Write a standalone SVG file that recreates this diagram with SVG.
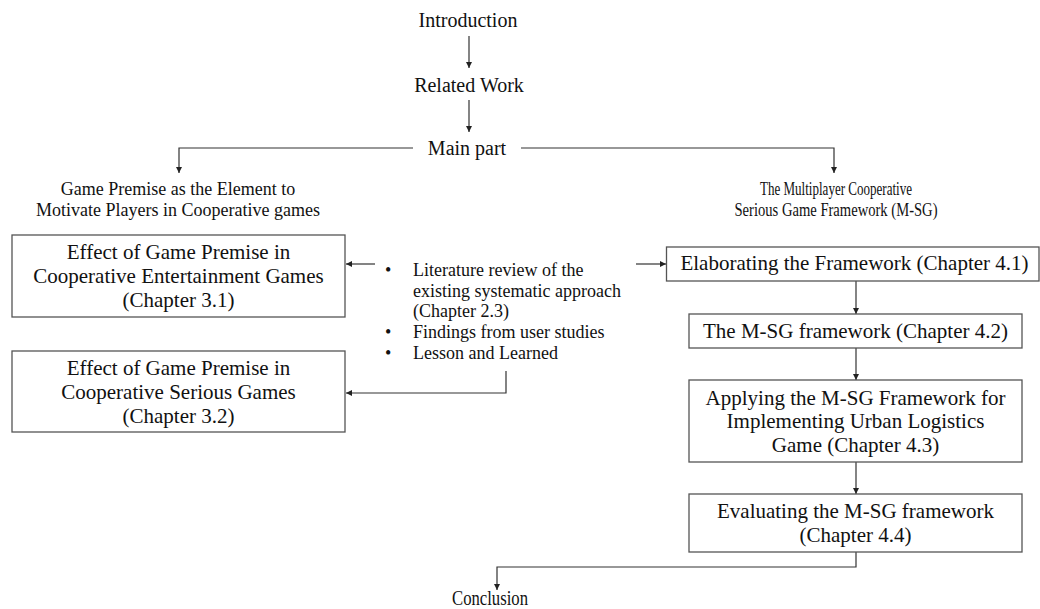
<svg xmlns="http://www.w3.org/2000/svg" width="1040" height="609" viewBox="0 0 1040 609">
  <style>
    text { font-family: "Liberation Serif", "Times New Roman", serif; fill: #111; }
    .top { font-size: 20px; text-anchor: middle; }
    .head { font-size: 18px; text-anchor: middle; }
    .box { fill: #fff; stroke: #555; stroke-width: 1.3; }
    .bt { font-size: 21px; text-anchor: middle; }
    .list { font-size: 18px; }
    .wire { fill: none; stroke: #333; stroke-width: 1.2; }
  </style>
  <defs>
    <marker id="arrow" viewBox="0 0 10 10" refX="10" refY="5" markerWidth="6" markerHeight="6" markerUnits="userSpaceOnUse" orient="auto">
      <path d="M0,0 L10,5 L0,10 z" fill="#222"/>
    </marker>
  </defs>

  <rect width="1040" height="609" fill="#fff"/>

  <!-- connectors -->
  <g id="connectors">
    <line class="wire" x1="469" y1="36" x2="469" y2="68" marker-end="url(#arrow)"/>
    <line class="wire" x1="469" y1="100" x2="469" y2="132" marker-end="url(#arrow)"/>
    <path class="wire" d="M413,148 H179 V173" marker-end="url(#arrow)"/>
    <path class="wire" d="M521,148 H834 V173" marker-end="url(#arrow)"/>
    <line class="wire" x1="375" y1="264" x2="346" y2="264" marker-end="url(#arrow)"/>
    <path class="wire" d="M506,371 V393 H346" marker-end="url(#arrow)"/>
    <line class="wire" x1="636" y1="264" x2="666" y2="264" marker-end="url(#arrow)"/>
    <line class="wire" x1="856" y1="281" x2="856" y2="314" marker-end="url(#arrow)"/>
    <line class="wire" x1="856" y1="348" x2="856" y2="380" marker-end="url(#arrow)"/>
    <line class="wire" x1="856" y1="462" x2="856" y2="494" marker-end="url(#arrow)"/>
    <path class="wire" d="M856,552 V567 H497 V590" marker-end="url(#arrow)"/>
  </g>

  <g id="introduction">
    <text class="top" x="468" y="27">Introduction</text>
  </g>
  <g id="related-work">
    <text class="top" x="469" y="92">Related Work</text>
  </g>
  <g id="main-part">
    <text class="top" x="467" y="155">Main part</text>
  </g>

  <g id="premise-heading">
    <text class="head" x="178" y="195">Game Premise as the Element to</text>
    <text class="head" x="178" y="216">Motivate Players in Cooperative games</text>
  </g>
  <g id="msg-heading">
    <text class="head" x="836" y="195" textLength="152" lengthAdjust="spacingAndGlyphs">The Multiplayer Cooperative</text>
    <text class="head" x="836" y="216" textLength="203" lengthAdjust="spacingAndGlyphs">Serious Game Framework (M-SG)</text>
  </g>

  <g id="chapter-3-1">
    <rect class="box" x="12" y="235" width="333" height="82"/>
    <text class="bt" x="178.5" y="259">Effect of Game Premise in</text>
    <text class="bt" x="178.5" y="283">Cooperative Entertainment Games</text>
    <text class="bt" x="178.5" y="307">(Chapter 3.1)</text>
  </g>
  <g id="chapter-3-2">
    <rect class="box" x="12" y="351" width="333" height="81"/>
    <text class="bt" x="178.5" y="375">Effect of Game Premise in</text>
    <text class="bt" x="178.5" y="399">Cooperative Serious Games</text>
    <text class="bt" x="178.5" y="423">(Chapter 3.2)</text>
  </g>

  <g id="sources">
    <text class="list" x="385" y="276">•</text>
    <text class="list" x="413" y="276">Literature review of the</text>
    <text class="list" x="413" y="297">existing systematic approach</text>
    <text class="list" x="413" y="317">(Chapter 2.3)</text>
    <text class="list" x="385" y="338">•</text>
    <text class="list" x="413" y="338">Findings from user studies</text>
    <text class="list" x="385" y="359">•</text>
    <text class="list" x="413" y="359">Lesson and Learned</text>
  </g>

  <g id="chapter-4-1">
    <rect class="box" x="666.5" y="247" width="372.5" height="34"/>
    <text class="bt" x="854.5" y="270">Elaborating the Framework (Chapter 4.1)</text>
  </g>
  <g id="chapter-4-2">
    <rect class="box" x="689" y="314" width="333" height="34"/>
    <text class="bt" x="855.5" y="338">The M-SG framework (Chapter 4.2)</text>
  </g>
  <g id="chapter-4-3">
    <rect class="box" x="689" y="380" width="333" height="82"/>
    <text class="bt" x="855.5" y="405">Applying the M-SG Framework for</text>
    <text class="bt" x="855.5" y="428">Implementing Urban Logistics</text>
    <text class="bt" x="855.5" y="452">Game (Chapter 4.3)</text>
  </g>
  <g id="chapter-4-4">
    <rect class="box" x="689" y="494" width="333" height="58"/>
    <text class="bt" x="855.5" y="518">Evaluating the M-SG framework</text>
    <text class="bt" x="855.5" y="542">(Chapter 4.4)</text>
  </g>

  <g id="conclusion">
    <text class="top" x="490" y="605" textLength="76" lengthAdjust="spacingAndGlyphs">Conclusion</text>
  </g>
</svg>
